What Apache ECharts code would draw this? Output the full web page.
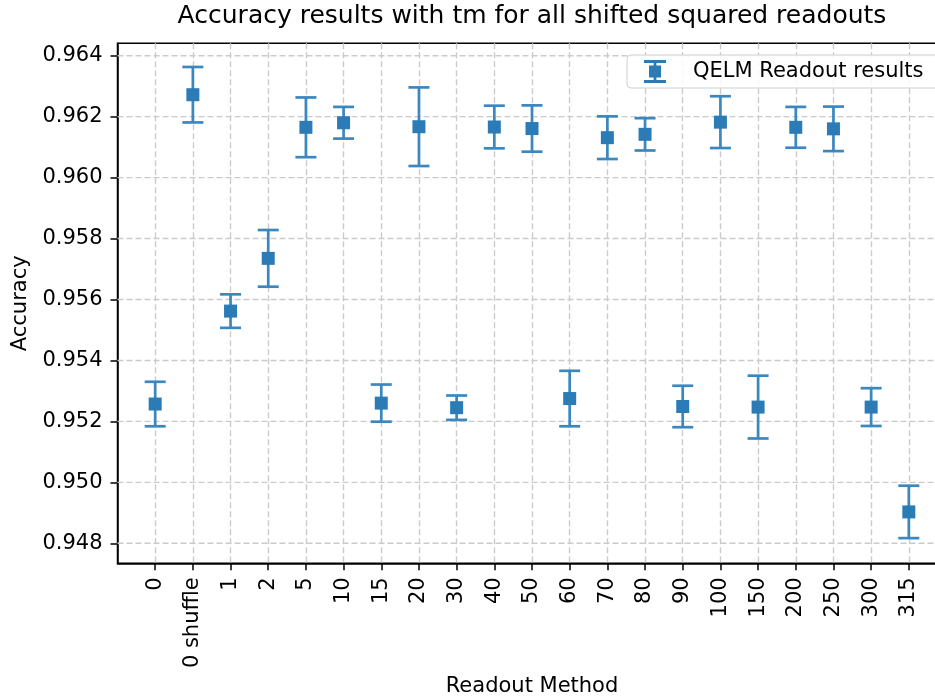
<!DOCTYPE html>
<html>
<head>
<meta charset="utf-8">
<script src="https://cdn.jsdelivr.net/npm/echarts@6/dist/echarts.min.js"></script>
<style>
html,body{margin:0;padding:0;background:#fff;}
#chart{width:935px;height:696px;}
</style>
</head>
<body>
<div id="chart"></div>
<script>
const categories = ['0','0 shuffle','1','2','5','10','15','20','30','40','50','60','70','80','90','100','150','200','250','300','315'];
const accuracy = [0.95257,0.96272,0.95562,0.95735,0.96165,0.96180,0.95260,0.96167,0.95245,0.96166,0.96161,0.95275,0.96131,0.96142,0.95249,0.96182,0.95247,0.96165,0.96160,0.95247,0.94903];
const errors = [0.00073,0.00091,0.00055,0.00093,0.00098,0.00052,0.00061,0.00129,0.00040,0.00070,0.00076,0.00091,0.00070,0.00053,0.00068,0.00085,0.00103,0.00067,0.00073,0.00062,0.00086];
const yTicks = [0.948,0.950,0.952,0.954,0.956,0.958,0.960,0.962,0.964];
const xTickIdx = categories.map((c,i)=>i);
const seriesName = 'QELM Readout results';

const FONT = 'DejaVu Sans';
const barColor = '#3b87bf';
const markColor = '#2b7bb6';

const chart = echarts.init(document.getElementById('chart'), null, {renderer:'canvas'});
const option = {
  animation: false,
  backgroundColor: '#fff',
  title: {
    text: 'Accuracy results with tm for all shifted squared readouts',
    left: 532, top: 4, textAlign: 'center', padding: 0,
    textStyle: {fontFamily: FONT, fontSize: 25, fontWeight: 'normal', color: '#000'}
  },
  legend: {
    left: 627, top: 55,
    data: [{name: seriesName, icon: 'path://M0 0H22V3H0Z M9.6 0H12.4V23H9.6Z M0 20H22V23H0Z M5 5.5H17V17.5H5Z'}],
    itemWidth: 22, itemHeight: 23,
    padding: [5, 17, 5, 17],
    borderColor: '#d0d0d0', borderWidth: 1, borderRadius: 4,
    backgroundColor: 'rgba(255,255,255,0.85)',
    textStyle: {fontFamily: FONT, fontSize: 21, color: '#000', padding: [0,0,0,22]}
  },
  grid: {
    left: 117.5, top: 43.3, width: 829, height: 520,
    show: true, borderColor: '#000', borderWidth: 1.5, backgroundColor: '#fff',
    containLabel: false, outerBoundsMode: 'none'
  },
  xAxis: {
    type: 'value', min: -1, max: 21, interval: 1,
    name: 'Readout Method', nameLocation: 'middle', nameGap: 113,
    nameTextStyle: {fontFamily: FONT, fontSize: 21, color: '#000'},
    axisLine: {show: true, onZero: false, lineStyle: {color: '#000', width: 1.5}},
    axisTick: {show: true, customValues: xTickIdx, length: 7, lineStyle: {color: '#000', width: 1.5}},
    axisLabel: {customValues: xTickIdx, rotate: 90, margin: 14, fontFamily: FONT, fontSize: 21, color: '#000',
      formatter: v => categories[Math.round(v)] ?? ''},
    splitLine: {show: true, lineStyle: {color: '#cbcbcb', width: 1.4, type: [6,3]}}
  },
  yAxis: {
    type: 'value', min: 0.947344, max: 0.964407,
    name: 'Accuracy', nameLocation: 'middle', nameGap: 85,
    nameTextStyle: {fontFamily: FONT, fontSize: 21, color: '#000'},
    axisLine: {show: true, onZero: false, lineStyle: {color: '#000', width: 1.5}},
    axisTick: {show: true, customValues: yTicks, length: 7, lineStyle: {color: '#000', width: 1.5}},
    axisLabel: {customValues: yTicks, margin: 15, fontFamily: FONT, fontSize: 21, color: '#000',
      formatter: v => v.toFixed(3)},
    splitLine: {show: false}
  },
  series: [
    {
      type: 'custom', name: 'grid-h', silent: true, z: 1,
      data: yTicks.map(v => [0, v]),
      renderItem: function (params, api) {
        const cs = params.coordSys;
        const y = api.coord([0, api.value(1)])[1];
        return {type: 'line', shape: {x1: cs.x, y1: y, x2: cs.x + cs.width, y2: y},
          style: {stroke: '#cbcbcb', lineWidth: 1.4, lineDash: [6,3]}};
      }
    },
    {
      type: 'custom', name: seriesName, z: 5,
      itemStyle: {color: markColor},
      data: categories.map((c, i) => [i, accuracy[i], errors[i]]),
      renderItem: function (params, api) {
        const x = api.value(0), v = api.value(1), e = api.value(2);
        const c = api.coord([x, v]);
        const t = api.coord([x, v + e]);
        const b = api.coord([x, v - e]);
        const cw = 10.5, ms = 13;
        const ls = {stroke: barColor, lineWidth: 2.7};
        return {type: 'group', children: [
          {type: 'line', shape: {x1: c[0], y1: t[1], x2: c[0], y2: b[1]}, style: ls},
          {type: 'line', shape: {x1: c[0]-cw, y1: t[1], x2: c[0]+cw, y2: t[1]}, style: ls},
          {type: 'line', shape: {x1: c[0]-cw, y1: b[1], x2: c[0]+cw, y2: b[1]}, style: ls},
          {type: 'rect', shape: {x: c[0]-ms/2, y: c[1]-ms/2, width: ms, height: ms}, style: {fill: markColor}}
        ]};
      }
    }
  ]
};
chart.setOption(option);
</script>
</body>
</html>
